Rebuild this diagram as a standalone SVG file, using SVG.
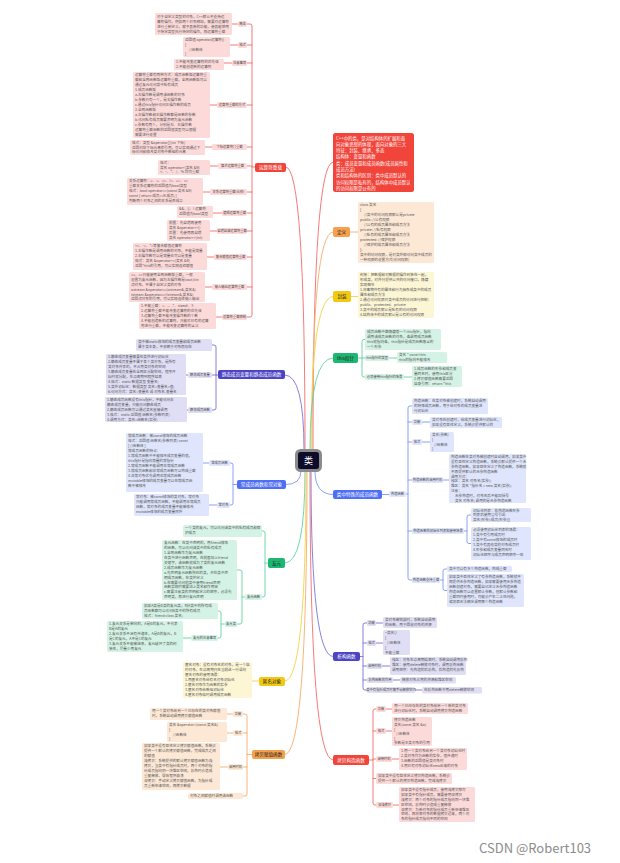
<svg xmlns="http://www.w3.org/2000/svg" width="620" height="863" viewBox="0 0 620 863">
<style>
text{font-family:"Noto Sans CJK SC","Noto Sans",sans-serif}
.bt{font-size:3.6px;fill:#555}
.lt{font-size:3.3px;fill:#444;text-anchor:middle}
.mt{font-size:4.6px;text-anchor:middle}
.rt{font-size:4.4px;fill:#fff}
.w{fill:#fff}.d{fill:#222}
.fr{fill:#fddada}.fi{fill:#e0def5}.fb{fill:#dfe5fc}.fg{fill:#d4f3e6}.fy{fill:#fdf6d5}.fo{fill:#fde8d6}
.nr{fill:#f1443a}.ni{fill:#4c44c4}.nb{fill:#4f6ef7}.ng{fill:#1cb872}.ny{fill:#f2c912}.no{fill:#f5a04c}
.c{fill:none;stroke-width:0.9;stroke-linecap:round}
.sr{stroke:#f36c6c}.si{stroke:#7a73d8}.sb{stroke:#7d96f5}.sg{stroke:#62d3a2}.sy{stroke:#f3d248}.so{stroke:#f5ad6e}
</style>
<rect width="620" height="863" fill="#fff"/>
<g id="connectors">
<path class="c sr" d="M305 450 Q305 167 286 167"/>
<path class="c si" d="M304 450 Q304 375 285 375"/>
<path class="c sb" d="M301 471 Q301 484.5 286 484.5"/>
<path class="c sg" d="M305 471 Q305 563 285 563"/>
<path class="c sy" d="M306 471 Q306 681 285 681"/>
<path class="c so" d="M307 471 Q307 754.5 285 754.5"/>
<path class="c sr" d="M313 450 Q313 162 333 162"/>
<path class="c so" d="M312 450 Q312 232 333 232"/>
<path class="c sy" d="M311 450 Q311 296.5 333 296.5"/>
<path class="c sg" d="M310 450 Q310 358 333 358"/>
<path class="c sb" d="M315 471 Q315 494.5 333 494.5"/>
<path class="c si" d="M311 471 Q311 656.5 333 656.5"/>
<path class="c sr" d="M310 471 Q310 760 333 760"/>
<path class="c sr" d="M255 167 H252 M247 24 H250 Q252 24 252 26 V315 Q252 317 250 317 H247 M252 45 H247 M252 63 H247 M252 105 H247 M252 147 H247 M252 166 H247 M252 192 H247 M252 213 H247 M252 231 H247 M252 257 H247 M252 287 H247 M238 24 H232 M238 45 H230 M232 63 H224 M217 105 H210 M212 147 H205 M218 166 H210 M210 192 H203 M222 213 H213 M217 231 H210 M214 257 H207 M212 287 H205 M222 317 H216"/>
<path class="c si" d="M218 375 H216 M212 345 H214 Q216 345 216 347 V408 Q216 410 214 410 H212 M216 375 H212 M188 375 H186 M188 410 H187"/>
<path class="c sb" d="M237 484.5 H233 M230 463 H231 Q233 463 233 465 V503 Q233 505 231 505 H230 M209 463 H203 M217 505 H209"/>
<path class="c sg" d="M268 563 H265 M262 531 H263 Q265 531 265 533 V595 Q265 597 263 597 H262 M245 597 H242 M237 570 H240 Q242 570 242 572 V622 Q242 624 240 624 H237 M225 624 H221 M218 611 H219 Q221 611 221 613 V636 Q221 638 219 638 H218 M191 638 H183"/>
<path class="c sy" d="M259 681 H252"/>
<path class="c so" d="M252 754.5 H247 M243 714 H245 Q247 714 247 716 V794 Q247 796 245 796 H243 M247 733 H243 M247 767 H243 M233 714 H227 M233 733 H227 M228 767 H220"/>
<path class="c so" d="M350 232 H358"/>
<path class="c sy" d="M351 296.5 H358"/>
<path class="c sg" d="M358 358 H362 M365 339.5 H364 Q362 339.5 362 341.5 V375 Q362 377 364 377 H365 M362 358 H365 M389 358 H397 M404 377 H412"/>
<path class="c sb" d="M382 494.5 H389 M406 494 H408 M412 406 H410 Q408 406 408 408 V578 Q408 580 410 580 H412 M408 422 H412 M408 442 H412 M408 480 H412 M408 531 H412 M422 422 H430 M422 442 H430 M443 480 H449 M464 531 H467 M471 515 H469 Q467 515 467 517 V541.5 Q467 543.5 469 543.5 H471 M440 580 H443 M447 569 H445 Q443 569 443 571 V588.5 Q443 590.5 445 590.5 H447"/>
<path class="c si" d="M360 656.5 H363 M367 623 H365 Q363 623 363 625 V688 Q363 690 365 690 H367 M363 643 H367 M363 666 H367 M363 680 H367 M376 623 H383 M376 643 H383 M382 666 H390 M393 680 H400 M415 690 H422"/>
<path class="c sr" d="M369 760 H373 M376 709 H375 Q373 709 373 711 V803 Q373 805 375 805 H376 M373 731 H376 M373 759 H376 M373 778.5 H376 M386 709 H392 M386 731 H392 M392 759 H399 M393 805 H399"/>
</g>

<g id="center">
<rect x="296.5" y="450.5" width="24" height="20" rx="4" fill="#0d0d2b" stroke="#8b8b8b" stroke-width="3"/>
<text x="308.5" y="464" font-size="9" fill="#fff" text-anchor="middle">类</text>
</g>

<g id="opover">
<rect class="nr" x="255" y="163" width="31" height="9" rx="2"/>
<text class="mt w" x="270.5" y="169.2">运算符重载</text>
</g>
<g id="a1">
<rect class="fr" x="238" y="21" width="9" height="6" rx="1.5"/><text class="lt" x="242.5" y="25.2">概念</text>
<rect class="fr" x="155" y="13" width="77" height="22" rx="1.5"/>
<text class="bt"><tspan x="157" y="17.5">对于自定义类型的对象，C++默认不支持运</tspan><tspan x="157" y="22.5">算符操作，例如两个对象相加，需要对运算符</tspan><tspan x="157" y="27.5">进行重新定义，赋予其新的功能，使其能够用</tspan><tspan x="157" y="32.5">于特定类型执行特定的操作，即运算符重载</tspan></text>
</g>
<g id="a2">
<rect class="fr" x="238" y="42" width="9" height="6" rx="1.5"/><text class="lt" x="242.5" y="46.2">格式</text>
<rect class="fr" x="183" y="37" width="47" height="20" rx="1.5"/>
<text class="bt"><tspan x="185" y="41.3">返回值 operator运算符()</tspan><tspan x="185" y="45.9">{</tspan><tspan x="189" y="50.5">//函数体</tspan><tspan x="185" y="55.1">}</tspan></text>
</g>
<g id="a3">
<rect class="fr" x="232" y="60" width="15" height="6" rx="1.5"/><text class="lt" x="239.5" y="64.2">注意事项</text>
<rect class="fr" x="174" y="59" width="50" height="11" rx="1.5"/>
<text class="bt"><tspan x="176" y="63.2">1.不能改变运算符的优先级</tspan><tspan x="176" y="68">2.不能创造新的运算符</tspan></text>
</g>
<g id="a4">
<rect class="fr" x="217" y="102" width="30" height="6" rx="1.5"/><text class="lt" x="232" y="106.2">运算符重载的方式</text>
<rect class="fr" x="133" y="72" width="77" height="66" rx="1.5"/>
<text class="bt"><tspan x="135" y="76.3">运算符重载有两种方式：成员函数版运算符重</tspan><tspan x="135" y="81.3">载和全局函数版运算符重载，全局函数版可以</tspan><tspan x="135" y="86.3">通过友元访问类中私有成员</tspan><tspan x="135" y="91.3">1.成员函数版</tspan><tspan x="135" y="96.3">a.左操作数是调用该函数的对象</tspan><tspan x="135" y="101.3">b.参数只有一个，是右操作数</tspan><tspan x="135" y="106.3">c.通过this指针访问左操作数的成员</tspan><tspan x="135" y="111.3">2.全局函数版</tspan><tspan x="135" y="116.3">a.左操作数和右操作数都是函数的参数</tspan><tspan x="135" y="121.3">b.访问私有成员需要声明为友元函数</tspan><tspan x="135" y="126.3">c.参数有两个，分别是左、右操作数</tspan><tspan x="135" y="131.3">运算符重载函数的返回值类型可以根据</tspan><tspan x="135" y="136.3">需要进行设置</tspan></text>
</g>
<g id="a5">
<rect class="fr" x="212" y="144" width="35" height="6" rx="1.5"/><text class="lt" x="229.5" y="148.2">下标运算符[ ]重载</text>
<rect class="fr" x="130" y="140" width="75" height="15" rx="1.5"/>
<text class="bt"><tspan x="132" y="144.2">格式：类型 &amp;operator[](int 下标)</tspan><tspan x="132" y="148.8">返回对应下标元素的引用，可以实现通过下</tspan><tspan x="132" y="153.4">标访问和修改类对象中数组的元素</tspan></text>
</g>
<g id="a6">
<rect class="fr" x="218" y="163" width="29" height="6" rx="1.5"/><text class="lt" x="232.5" y="167.2">算术运算符重载</text>
<rect class="fr" x="158" y="160" width="52" height="15" rx="1.5"/>
<text class="bt"><tspan x="160" y="164.2">格式：</tspan><tspan x="160" y="168.8">类名 operator+(类名 &amp;R)</tspan><tspan x="160" y="173.4">+、-、*、/、% 均可重载</tspan></text>
</g>
<g id="a7">
<rect class="fr" x="210" y="189" width="37" height="6" rx="1.5"/><text class="lt" x="228.5" y="193.2">关系运算符重载(比较)</text>
<rect class="fr" x="127" y="178" width="76" height="27" rx="1.5"/>
<text class="bt"><tspan x="129" y="182.3">关系运算符：&gt;、&lt;、==、!=、&gt;=、&lt;=</tspan><tspan x="129" y="187.3">重载关系运算符的返回值为bool类型</tspan><tspan x="129" y="192.3">格式：bool operator==(const 类名 &amp;R)</tspan><tspan x="129" y="197.3">const { return 成员==R.成员; }</tspan><tspan x="129" y="202.3">判断两个对象之间的关系是否成立</tspan></text>
</g>
<g id="a8">
<rect class="fr" x="222" y="210" width="25" height="6" rx="1.5"/><text class="lt" x="234.5" y="214.2">逻辑运算符重载</text>
<rect class="fr" x="177" y="206" width="36" height="12" rx="1.5"/>
<text class="bt"><tspan x="179" y="210.3">&amp;&amp;、||、! 运算符</tspan><tspan x="179" y="215.3">返回值为bool类型</tspan></text>
</g>
<g id="a9">
<rect class="fr" x="217" y="228" width="30" height="6" rx="1.5"/><text class="lt" x="232" y="232.2">自增自减运算符重载</text>
<rect class="fr" x="167" y="220" width="43" height="21" rx="1.5"/>
<text class="bt"><tspan x="169" y="224.3">前置：先自增再使用</tspan><tspan x="169" y="229.1">类名 &amp;operator++()</tspan><tspan x="169" y="233.9">后置：先使用再自增</tspan><tspan x="169" y="238.7">类名 operator++(int)</tspan></text>
</g>
<g id="a10">
<rect class="fr" x="214" y="254" width="33" height="6" rx="1.5"/><text class="lt" x="230.5" y="258.2">复合赋值运算符重载</text>
<rect class="fr" x="133" y="243" width="74" height="27" rx="1.5"/>
<text class="bt"><tspan x="135" y="247.3">+=、-=、*=等复合赋值运算符</tspan><tspan x="135" y="252.3">1.左操作数是调用函数的对象，不能是常量</tspan><tspan x="135" y="257.3">2.右操作数可以是常量也可以是变量</tspan><tspan x="135" y="262.3">格式：类名 &amp;operator+=(类名 &amp;R)</tspan><tspan x="135" y="267.3">返回*this的引用，可以实现连续赋值</tspan></text>
</g>
<g id="a11">
<rect class="fr" x="212" y="284" width="35" height="6" rx="1.5"/><text class="lt" x="229.5" y="288.2">输入输出运算符重载</text>
<rect class="fr" x="129" y="272" width="76" height="30" rx="1.5"/>
<text class="bt"><tspan x="131" y="276.3">&lt;&lt;、&gt;&gt;只能使用全局函数版重载，一般</tspan><tspan x="131" y="281.1">设置为友元函数，因为左操作数是cout/cin</tspan><tspan x="131" y="285.9">流对象，不属于自定义类的对象</tspan><tspan x="131" y="290.7">ostream &amp;operator&lt;&lt;(ostream&amp;,类名&amp;)</tspan><tspan x="131" y="295.5">istream &amp;operator&gt;&gt;(istream&amp;,类名&amp;)</tspan><tspan x="131" y="300.3">返回流对象的引用，可以实现连续输入输出</tspan></text>
</g>
<g id="a12">
<rect class="fr" x="222" y="314" width="25" height="6" rx="1.5"/><text class="lt" x="234.5" y="318.2">运算符重载限制</text>
<rect class="fr" x="139" y="303" width="77" height="26" rx="1.5"/>
<text class="bt"><tspan x="141" y="307.3">1.不能重载：::、.、.*、sizeof、?:</tspan><tspan x="141" y="312.2">2.运算符重载不能改变运算符的优先级</tspan><tspan x="141" y="317.1">3.运算符重载不能改变操作数的个数</tspan><tspan x="141" y="322">4.不能创造新的运算符，只能对已有的运算</tspan><tspan x="141" y="326.9">符进行重载，不能改变运算符的含义</tspan></text>
</g>

<g id="static">
<rect class="ni" x="218" y="370" width="67" height="9" rx="2"/>
<text class="mt w" x="251.5" y="376.2">静态成员变量和静态成员函数</text>
</g>
<g id="b1">
<rect class="fi" x="136" y="339" width="76" height="12" rx="1.5"/>
<text class="bt"><tspan x="138" y="343.3">类中被static修饰的成员变量和成员函数</tspan><tspan x="138" y="348.3">属于类本身，不依赖于对象而存在</tspan></text>
</g>
<g id="b2">
<rect class="fi" x="188" y="372" width="24" height="6" rx="1.5"/><text class="lt" x="200" y="376.2">静态成员变量</text>
<rect class="fi" x="106" y="354" width="80" height="41" rx="1.5"/>
<text class="bt"><tspan x="108" y="358.3">1.静态成员变量需要在类外进行初始化</tspan><tspan x="108" y="363.3">2.静态成员变量不属于某个类对象，是所有</tspan><tspan x="108" y="368.3">类对象共享的，不占用类对象的空间</tspan><tspan x="108" y="373.3">3.静态成员变量在全局区分配空间，程序开</tspan><tspan x="108" y="378.3">始时就分配，生命周期到程序结束</tspan><tspan x="108" y="383.3">4.格式：static 数据类型 变量名;</tspan><tspan x="108" y="388.3">5.类外初始化：数据类型 类名::变量名=值;</tspan><tspan x="108" y="393.3">6.访问方式：类名::变量名 或 对象名.变量名</tspan></text>
</g>
<g id="b3">
<rect class="fi" x="188" y="407" width="24" height="6" rx="1.5"/><text class="lt" x="200" y="411.2">静态成员函数</text>
<rect class="fi" x="105" y="397" width="82" height="25" rx="1.5"/>
<text class="bt"><tspan x="107" y="401.3">1.静态成员函数没有this指针，不能访问非</tspan><tspan x="107" y="406.1">静态成员变量，只能访问静态成员</tspan><tspan x="107" y="410.9">2.静态成员函数可以通过类名直接调用</tspan><tspan x="107" y="415.7">3.格式：static 返回值 函数名(参数列表)</tspan><tspan x="107" y="420.5">4.调用方式：类名::函数名(实参)</tspan></text>
</g>

<g id="const">
<rect class="nb" x="237" y="480" width="49" height="9" rx="2"/>
<text class="mt w" x="261.5" y="486.2">常成员函数和常对象</text>
</g>
<g id="c1">
<rect class="fb" x="209" y="460" width="21" height="6" rx="1.5"/><text class="lt" x="219.5" y="464.2">常成员函数</text>
<rect class="fb" x="126" y="433" width="77" height="59" rx="1.5"/>
<text class="bt"><tspan x="128" y="437.3">常成员函数：被const修饰的成员函数</tspan><tspan x="128" y="442.3">格式：返回值 函数名(参数列表) const</tspan><tspan x="128" y="447.3">{ //函数体 }</tspan><tspan x="128" y="452.3">常成员函数的特点：</tspan><tspan x="128" y="457.3">1.常成员函数中不能修改成员变量的值，</tspan><tspan x="128" y="462.3">this指针是指向常量的常指针</tspan><tspan x="128" y="467.3">2.常成员函数不能调用非常成员函数</tspan><tspan x="128" y="472.3">3.常成员函数和非常成员函数可以构成重载</tspan><tspan x="128" y="477.3">4.非常对象优先调用非常成员函数</tspan><tspan x="128" y="482.3">mutable修饰的成员变量可以在常成员函</tspan><tspan x="128" y="487.3">数中被修改</tspan></text>
</g>
<g id="c2">
<rect class="fb" x="217" y="502" width="13" height="6" rx="1.5"/><text class="lt" x="223.5" y="506.2">常对象</text>
<rect class="fb" x="134" y="494" width="75" height="22" rx="1.5"/>
<text class="bt"><tspan x="136" y="498.3">常对象：被const修饰的类对象，常对象</tspan><tspan x="136" y="503.3">只能调用常成员函数，不能调用非常成员</tspan><tspan x="136" y="508.3">函数，常对象的成员变量不能被修改</tspan><tspan x="136" y="513.3">mutable修饰的成员变量除外</tspan></text>
</g>

<g id="friend">
<rect class="ng" x="268" y="558" width="17" height="10" rx="2"/>
<text class="mt d" x="276.5" y="564.7">友元</text>
</g>
<g id="d1">
<rect class="fg" x="183" y="525" width="79" height="12" rx="1.5"/>
<text class="bt"><tspan x="185" y="529.3">一个类的友元，可以访问该类中的私有成员和保</tspan><tspan x="185" y="534.3">护成员</tspan></text>
</g>
<g id="d2">
<rect class="fg" x="245" y="594" width="17" height="6" rx="1.5"/><text class="lt" x="253.5" y="598.2">友元函数</text>
<rect class="fg" x="162" y="540" width="75" height="60" rx="1.5"/>
<text class="bt"><tspan x="164" y="544.3">友元函数：在类中声明的，用friend修饰</tspan><tspan x="164" y="549.2">的函数，可以访问该类中的私有成员</tspan><tspan x="164" y="554.1">1.全局函数作为友元函数</tspan><tspan x="164" y="559">在类中进行函数声明，在前面加上friend</tspan><tspan x="164" y="563.9">关键字，该函数就成为了类的友元函数</tspan><tspan x="164" y="568.8">2.成员函数作为友元函数</tspan><tspan x="164" y="573.7">a.先声明友元函数所在的类，并在类中声</tspan><tspan x="164" y="578.6">明成员函数，在类外定义</tspan><tspan x="164" y="583.5">b.在需要访问的类中使用friend声明</tspan><tspan x="164" y="588.4">函数实现时需要加上类名和作用域</tspan><tspan x="164" y="593.3">c.需要注意类的声明和定义的顺序，必须先</tspan><tspan x="164" y="598.2">声明类，再进行友元声明</tspan></text>
</g>
<g id="d3">
<rect class="fg" x="225" y="621" width="12" height="6" rx="1.5"/><text class="lt" x="231" y="625.2">友元类</text>
<rect class="fg" x="142" y="603" width="76" height="16" rx="1.5"/>
<text class="bt"><tspan x="144" y="607.3">如果A类是B类的友元类，则A类中的所有成</tspan><tspan x="144" y="612.1">员函数都可以访问B类中的所有成员</tspan><tspan x="144" y="616.9">格式：friend class 类名;</tspan></text>
</g>
<g id="d4">
<rect class="fg" x="191" y="635" width="27" height="6" rx="1.5"/><text class="lt" x="204.5" y="639.2">友元的注意事项</text>
<rect class="fg" x="107" y="621" width="76" height="31" rx="1.5"/>
<text class="bt"><tspan x="109" y="625.3">1.友元关系是单向的，A是B的友元，不代表</tspan><tspan x="109" y="630.3">B是A的友元</tspan><tspan x="109" y="635.3">2.友元关系不具有传递性，A是B的友元，B</tspan><tspan x="109" y="640.3">是C的友元，A不是C的友元</tspan><tspan x="109" y="645.3">3.友元关系不能被继承，友元破坏了类的封</tspan><tspan x="109" y="650.3">装性，尽量少用友元</tspan></text>
</g>

<g id="anon">
<rect class="ny" x="259" y="677" width="26" height="9" rx="2"/>
<text class="mt d" x="272" y="683.2">匿名对象</text>
</g>
<g id="e1">
<rect class="fy" x="183" y="662" width="69" height="36" rx="1.5"/>
<text class="bt"><tspan x="185" y="666.3">匿名对象：没有对象名的对象，是一个临</tspan><tspan x="185" y="671.3">时对象，生命周期只在当前这一行语句</tspan><tspan x="185" y="676.3">匿名对象的使用场景：</tspan><tspan x="185" y="681.3">1.用匿名对象给有名对象初始化</tspan><tspan x="185" y="686.3">2.匿名对象作为函数的实参</tspan><tspan x="185" y="691.3">3.匿名对象给数组初始化</tspan><tspan x="185" y="696.3">4.匿名对象临时调用成员函数</tspan></text>
</g>

<g id="copyassign">
<rect class="no" x="252" y="750" width="33" height="9" rx="2"/>
<text class="mt d" x="268.5" y="756.2">拷贝赋值函数</text>
</g>
<g id="f1">
<rect class="fo" x="233" y="711" width="10" height="6" rx="1.5"/><text class="lt" x="238" y="715.2">功能</text>
<rect class="fo" x="150" y="708" width="77" height="12" rx="1.5"/>
<text class="bt"><tspan x="152" y="712.3">用一个类对象给另一个已存在的类对象赋值</tspan><tspan x="152" y="717.3">时，系统自动调用拷贝赋值函数</tspan></text>
</g>
<g id="f2">
<rect class="fo" x="233" y="730" width="10" height="6" rx="1.5"/><text class="lt" x="238" y="734.2">格式</text>
<rect class="fo" x="167" y="722" width="60" height="20" rx="1.5"/>
<text class="bt"><tspan x="169" y="726.3">类名 &amp;operator=(const 类名&amp;)</tspan><tspan x="169" y="730.9">{</tspan><tspan x="173" y="735.5">//函数体</tspan><tspan x="169" y="740.1">}</tspan></text>
</g>
<g id="f3">
<rect class="fo" x="228" y="764" width="15" height="6" rx="1.5"/><text class="lt" x="235.5" y="768.2">调用时机</text>
<rect class="fo" x="142" y="743" width="78" height="47" rx="1.5"/>
<text class="bt"><tspan x="144" y="747.3">如果类中没有显性定义拷贝赋值函数，系统会</tspan><tspan x="144" y="752.3">提供一个默认的拷贝赋值函数，完成成员之间</tspan><tspan x="144" y="757.3">的赋值</tspan><tspan x="144" y="762.3">浅拷贝：系统提供的默认拷贝赋值函数为浅</tspan><tspan x="144" y="767.3">拷贝，当类中有指针成员时，两个对象的指</tspan><tspan x="144" y="772.3">针成员指向同一块堆区空间，析构时会造成</tspan><tspan x="144" y="777.3">重复释放，导致程序崩溃</tspan><tspan x="144" y="782.3">深拷贝：手动定义拷贝赋值函数，为指针成</tspan><tspan x="144" y="787.3">员重新申请空间，再拷贝数据</tspan></text>
</g>
<g id="f4">
<rect class="fo" x="188" y="793" width="55" height="6" rx="1.5"/>
<text class="bt" x="190" y="797.3">对象之间赋值时调用该函数</text>
</g>

<g id="intro">
<rect class="nr" x="333" y="133" width="81" height="59" rx="2.5"/>
<text class="rt"><tspan x="336" y="139.5">C++中的类，是对结构体的扩展和面</tspan><tspan x="336" y="145.8">向对象思想的体现，面向对象的三大</tspan><tspan x="336" y="152.1">特征：封装、继承、多态</tspan><tspan x="336" y="158.4">结构体：变量和函数</tspan><tspan x="336" y="164.7">类：成员变量和成员函数(成员属性和</tspan><tspan x="336" y="171">成员方法)</tspan><tspan x="336" y="177.3">类和结构体的区别：类中成员默认的</tspan><tspan x="336" y="183.6">访问权限是私有的，结构体中成员默认</tspan><tspan x="336" y="189.9">的访问权限是公有的</tspan></text>
</g>
<g id="define">
<rect class="no" x="333" y="227" width="17" height="10" rx="2"/>
<text class="mt d" x="341.5" y="233.7">定义</text>
<rect class="fo" x="358" y="202" width="76" height="61" rx="1.5"/>
<text class="bt"><tspan x="360" y="206.3">class 类名</tspan><tspan x="360" y="211.3">{</tspan><tspan x="364" y="216.3">//类中的访问权限默认是private</tspan><tspan x="360" y="221.3">public:  //公有权限</tspan><tspan x="364" y="226.3">//公有的成员属性和成员方法</tspan><tspan x="360" y="231.3">private:  //私有权限</tspan><tspan x="364" y="236.3">//私有的成员属性和成员方法</tspan><tspan x="360" y="241.3">protected:  //保护权限</tspan><tspan x="364" y="246.3">//保护的成员属性和成员方法</tspan><tspan x="360" y="251.3">};</tspan><tspan x="360" y="256.3">类中的访问权限，是对类外部访问类中成员的</tspan><tspan x="360" y="261.3">一种权限的设置方式(访问权限)</tspan></text>
</g>
<g id="encap">
<rect class="ny" x="333" y="291" width="18" height="11" rx="2"/>
<text class="mt d" x="342" y="298.2">封装</text>
<rect class="fy" x="358" y="272" width="76" height="46" rx="1.5"/>
<text class="bt"><tspan x="360" y="276.3">封装：把数据和对数据的操作封装在一起，</tspan><tspan x="360" y="281.3">形成类，对外只提供公共的访问接口，隐藏</tspan><tspan x="360" y="286.3">实现细节</tspan><tspan x="360" y="291.3">1.将事物共有的属性和行为抽象成类中的成员</tspan><tspan x="360" y="296.3">属性和成员方法</tspan><tspan x="360" y="301.3">2.通过访问权限对类中成员的访问进行控制：</tspan><tspan x="360" y="306.3">public、protected、private</tspan><tspan x="360" y="311.3">3.类中的成员默认是私有的访问权限</tspan><tspan x="360" y="316.3">4.结构体中的成员默认是公有的访问权限</tspan></text>
</g>
<g id="this">
<rect class="ng" x="333" y="353" width="25" height="10" rx="2"/>
<text class="mt d" x="345.5" y="359.7">this指针</text>
</g>
<g id="t1">
<rect class="fg" x="365" y="329" width="76" height="21" rx="1.5"/>
<text class="bt"><tspan x="367" y="333.3">成员函数中都隐藏着一个this指针，指向</tspan><tspan x="367" y="338.1">调用该成员函数的对象，谁调用成员函数</tspan><tspan x="367" y="342.9">this就指向谁，this指针是成员函数隐含的</tspan><tspan x="367" y="347.7">一个形参</tspan></text>
</g>
<g id="t2">
<rect class="fg" x="365" y="355" width="24" height="6" rx="1.5"/><text class="lt" x="377" y="359.2">this指针的类型</text>
<rect class="fg" x="397" y="352" width="50" height="11" rx="1.5"/>
<text class="bt"><tspan x="399" y="356.3">类名 * const this</tspan><tspan x="399" y="361.1">this的指向不能修改</tspan></text>
</g>
<g id="t3">
<rect class="fg" x="365" y="374" width="39" height="6" rx="1.5"/><text class="lt" x="384.5" y="378.2">必须使用this指针的场景</text>
<rect class="fg" x="412" y="366" width="50" height="21" rx="1.5"/>
<text class="bt"><tspan x="414" y="370.3">1.成员函数的形参和成员变</tspan><tspan x="414" y="375.1">量同名时，使用this区分</tspan><tspan x="414" y="379.9">2.拷贝赋值函数需要返回</tspan><tspan x="414" y="384.7">自身引用：return *this</tspan></text>
</g>

<g id="special">
<rect class="nb" x="333" y="490" width="49" height="9" rx="2"/>
<text class="mt w" x="357.5" y="496.2">类中特殊的成员函数</text>
<rect class="fb" x="389" y="491" width="17" height="6" rx="1.5"/><text class="lt" x="397.5" y="495.2">构造函数</text>
</g>
<g id="s1">
<rect class="fb" x="412" y="398" width="76" height="16" rx="1.5"/>
<text class="bt"><tspan x="414" y="402.3">构造函数：在类对象被创建时，系统自动调用</tspan><tspan x="414" y="407.1">的特殊成员函数，用于给对象的成员变量进</tspan><tspan x="414" y="411.9">行初始化</tspan></text>
</g>
<g id="s2">
<rect class="fb" x="412" y="419" width="10" height="6" rx="1.5"/><text class="lt" x="417" y="423.2">功能</text>
<rect class="fb" x="430" y="417" width="72" height="11" rx="1.5"/>
<text class="bt"><tspan x="432" y="421.2">类对象在创建时，给成员变量进行初始化，</tspan><tspan x="432" y="426">如果没有显性定义，系统会提供默认的</tspan></text>
</g>
<g id="s3">
<rect class="fb" x="412" y="439" width="10" height="6" rx="1.5"/><text class="lt" x="417" y="443.2">格式</text>
<rect class="fb" x="430" y="432" width="24" height="20" rx="1.5"/>
<text class="bt"><tspan x="432" y="436.3">类名(参数)</tspan><tspan x="432" y="440.9">{</tspan><tspan x="434" y="445.5">//函数体</tspan><tspan x="432" y="450.1">}</tspan></text>
</g>
<g id="s4">
<rect class="fb" x="412" y="477" width="31" height="6" rx="1.5"/><text class="lt" x="427.5" y="481.2">构造函数的调用时机</text>
<rect class="fb" x="449" y="454" width="77" height="49" rx="1.5"/>
<text class="bt"><tspan x="451" y="458.3">构造函数在类对象被创建时自动调用，如果类中</tspan><tspan x="451" y="463.1">没有显性定义构造函数，系统会默认提供一个无</tspan><tspan x="451" y="467.9">参构造函数，如果显性定义了构造函数，系统就</tspan><tspan x="451" y="472.7">不再提供默认的无参构造函数</tspan><tspan x="451" y="477.5">调用方式：</tspan><tspan x="451" y="482.3">栈区：类名 对象名(实参);</tspan><tspan x="451" y="487.1">堆区：类名 *指针名 = new 类名(实参);</tspan><tspan x="451" y="491.9">注意：</tspan><tspan x="455" y="496.7">无参构造时，对象名后不能加括号</tspan><tspan x="455" y="501.5">类名 对象名;  调用的是无参构造函数</tspan></text>
</g>
<g id="s5">
<rect class="fb" x="412" y="528" width="52" height="6" rx="1.5"/><text class="lt" x="438" y="532.2">构造函数的初始化列表和使用场景</text>
<rect class="fb" x="471" y="508" width="60" height="14" rx="1.5"/>
<text class="bt"><tspan x="473" y="512">初始化列表：在构造函数形参</tspan><tspan x="473" y="516.4">列表后使用冒号引出</tspan><tspan x="473" y="520.8">类名(形参):成员(形参){}</tspan></text>
<rect class="fb" x="471" y="527" width="60" height="33" rx="1.5"/>
<text class="bt"><tspan x="473" y="531.3">必须使用初始化列表的场景：</tspan><tspan x="473" y="536.3">1.类中有引用成员时</tspan><tspan x="473" y="541.3">2.类中有const修饰的成员时</tspan><tspan x="473" y="546.3">3.类中有其他类的对象成员时</tspan><tspan x="473" y="551.3">4.形参和成员变量同名时</tspan><tspan x="473" y="556.3">初始化顺序与成员声明顺序一致</tspan></text>
</g>
<g id="s6">
<rect class="fb" x="412" y="577" width="28" height="6" rx="1.5"/><text class="lt" x="426" y="581.2">构造函数支持重载</text>
<rect class="fb" x="447" y="566" width="65" height="6" rx="1.5"/>
<text class="bt" x="449" y="570.3">类中可以有多个构造函数，构成重载</text>
<rect class="fb" x="447" y="574" width="77" height="33" rx="1.5"/>
<text class="bt"><tspan x="449" y="578.3">如果类中显性定义了有参构造函数，系统就不</tspan><tspan x="449" y="583.3">再提供无参构造函数，如果需要使用无参构造</tspan><tspan x="449" y="588.3">函数创建对象，需要自己定义无参构造函数</tspan><tspan x="449" y="593.3">构造函数可以设置默认参数，但默认参数和</tspan><tspan x="449" y="598.3">重载同时使用时，可能会产生二义性问题，</tspan><tspan x="449" y="603.3">编译器无法确定调用哪个构造函数</tspan></text>
</g>

<g id="destructor">
<rect class="ni" x="333" y="652" width="27" height="9" rx="2"/>
<text class="mt w" x="346.5" y="658.2">析构函数</text>
</g>
<g id="x1">
<rect class="fi" x="367" y="620" width="9" height="6" rx="1.5"/><text class="lt" x="371.5" y="624.2">功能</text>
<rect class="fi" x="383" y="617" width="54" height="11" rx="1.5"/>
<text class="bt"><tspan x="385" y="621.2">类对象被销毁时，系统自动调用</tspan><tspan x="385" y="626">的函数，用于回收对象的资源</tspan></text>
</g>
<g id="x2">
<rect class="fi" x="367" y="640" width="9" height="6" rx="1.5"/><text class="lt" x="371.5" y="644.2">格式</text>
<rect class="fi" x="383" y="630" width="27" height="25" rx="1.5"/>
<text class="bt"><tspan x="385" y="634.3">~类名()</tspan><tspan x="385" y="639.1">{</tspan><tspan x="387" y="643.9">//函数体</tspan><tspan x="385" y="648.7">}</tspan><tspan x="385" y="653.5">不能重载</tspan></text>
</g>
<g id="x3">
<rect class="fi" x="367" y="663" width="15" height="6" rx="1.5"/><text class="lt" x="374.5" y="667.2">调用时机</text>
<rect class="fi" x="390" y="657" width="76" height="18" rx="1.5"/>
<text class="bt"><tspan x="392" y="661.3">栈区：对象生命周期结束时，系统自动调用析构</tspan><tspan x="392" y="666.3">堆区：使用delete释放对象时，调用析构函数</tspan><tspan x="392" y="671.3">调用顺序：先构造的后析构，后构造的先析构</tspan></text>
</g>
<g id="x4">
<rect class="fi" x="367" y="677" width="26" height="6" rx="1.5"/><text class="lt" x="380" y="681.2">析构函数的作用</text>
<rect class="fi" x="400" y="677" width="56" height="6.5" rx="1.5"/>
<text class="bt" x="402" y="681.4">释放对象占用的资源和堆区空间</text>
</g>
<g id="x5">
<rect class="fi" x="367" y="687" width="48" height="6" rx="1.5"/><text class="lt" x="391" y="691.2">类中有指针成员时需手动释放空间</text>
<rect class="fi" x="422" y="687" width="60" height="6.5" rx="1.5"/>
<text class="bt" x="424" y="691.4">在析构函数中用delete释放空间</text>
</g>

<g id="copyctor">
<rect class="nr" x="333" y="755" width="36" height="10" rx="2"/>
<text class="mt w" x="351" y="761.7">拷贝构造函数</text>
</g>
<g id="k1">
<rect class="fr" x="376" y="706" width="10" height="6" rx="1.5"/><text class="lt" x="381" y="710.2">功能</text>
<rect class="fr" x="392" y="703" width="76" height="11" rx="1.5"/>
<text class="bt"><tspan x="394" y="707.2">用一个已经存在的类对象给另一个新的类对象</tspan><tspan x="394" y="712">进行初始化时，系统自动调用拷贝构造函数</tspan></text>
</g>
<g id="k2">
<rect class="fr" x="376" y="728" width="10" height="6" rx="1.5"/><text class="lt" x="381" y="732.2">格式</text>
<rect class="fr" x="392" y="717" width="40" height="29" rx="1.5"/>
<text class="bt"><tspan x="394" y="721.3">拷贝构造函数</tspan><tspan x="394" y="725.9">类名(const 类名 &amp;o)</tspan><tspan x="394" y="730.5">{</tspan><tspan x="396" y="735.1">//函数体</tspan><tspan x="394" y="739.7">}</tspan><tspan x="394" y="744.3">参数是本类对象的引用</tspan></text>
</g>
<g id="k3">
<rect class="fr" x="376" y="756" width="16" height="6" rx="1.5"/><text class="lt" x="384" y="760.2">调用时机</text>
<rect class="fr" x="399" y="748" width="68" height="22" rx="1.5"/>
<text class="bt"><tspan x="401" y="752.3">1.用一个类对象给另一个类对象初始化时</tspan><tspan x="401" y="757.3">2.类对象作为函数的实参，值传递时</tspan><tspan x="401" y="762.3">3.函数的返回值是类对象时</tspan><tspan x="401" y="767.3">4.用已有对象初始化new出来的对象</tspan></text>
</g>
<g id="k4">
<rect class="fr" x="376" y="773" width="76" height="11" rx="1.5"/>
<text class="bt"><tspan x="378" y="777.2">如果类中没有显性定义拷贝构造函数，系统会</tspan><tspan x="378" y="782">提供一个默认的拷贝构造函数，完成浅拷贝</tspan></text>
</g>
<g id="k5">
<rect class="fr" x="376" y="802" width="17" height="6" rx="1.5"/><text class="lt" x="384.5" y="806.2">深浅拷贝</text>
<rect class="fr" x="399" y="787" width="76" height="35" rx="1.5"/>
<text class="bt"><tspan x="401" y="791.3">如果类中没有指针成员，使用浅拷贝即可</tspan><tspan x="401" y="796.1">如果类中有指针成员，需要使用深拷贝</tspan><tspan x="401" y="800.9">浅拷贝：两个对象的指针成员指向同一块堆</tspan><tspan x="401" y="805.7">区空间，析构时会造成重复释放</tspan><tspan x="401" y="810.5">深拷贝：为新对象的指针成员重新申请堆区</tspan><tspan x="401" y="815.3">空间，再将原对象的数据拷贝过来，两个对</tspan><tspan x="401" y="820.1">象的指针成员指向不同的空间</tspan></text>
</g>

<text x="479" y="853" font-family="'Liberation Sans',sans-serif" font-size="13" fill="#8c8c8c">CSDN @Robert103</text>
</svg>
